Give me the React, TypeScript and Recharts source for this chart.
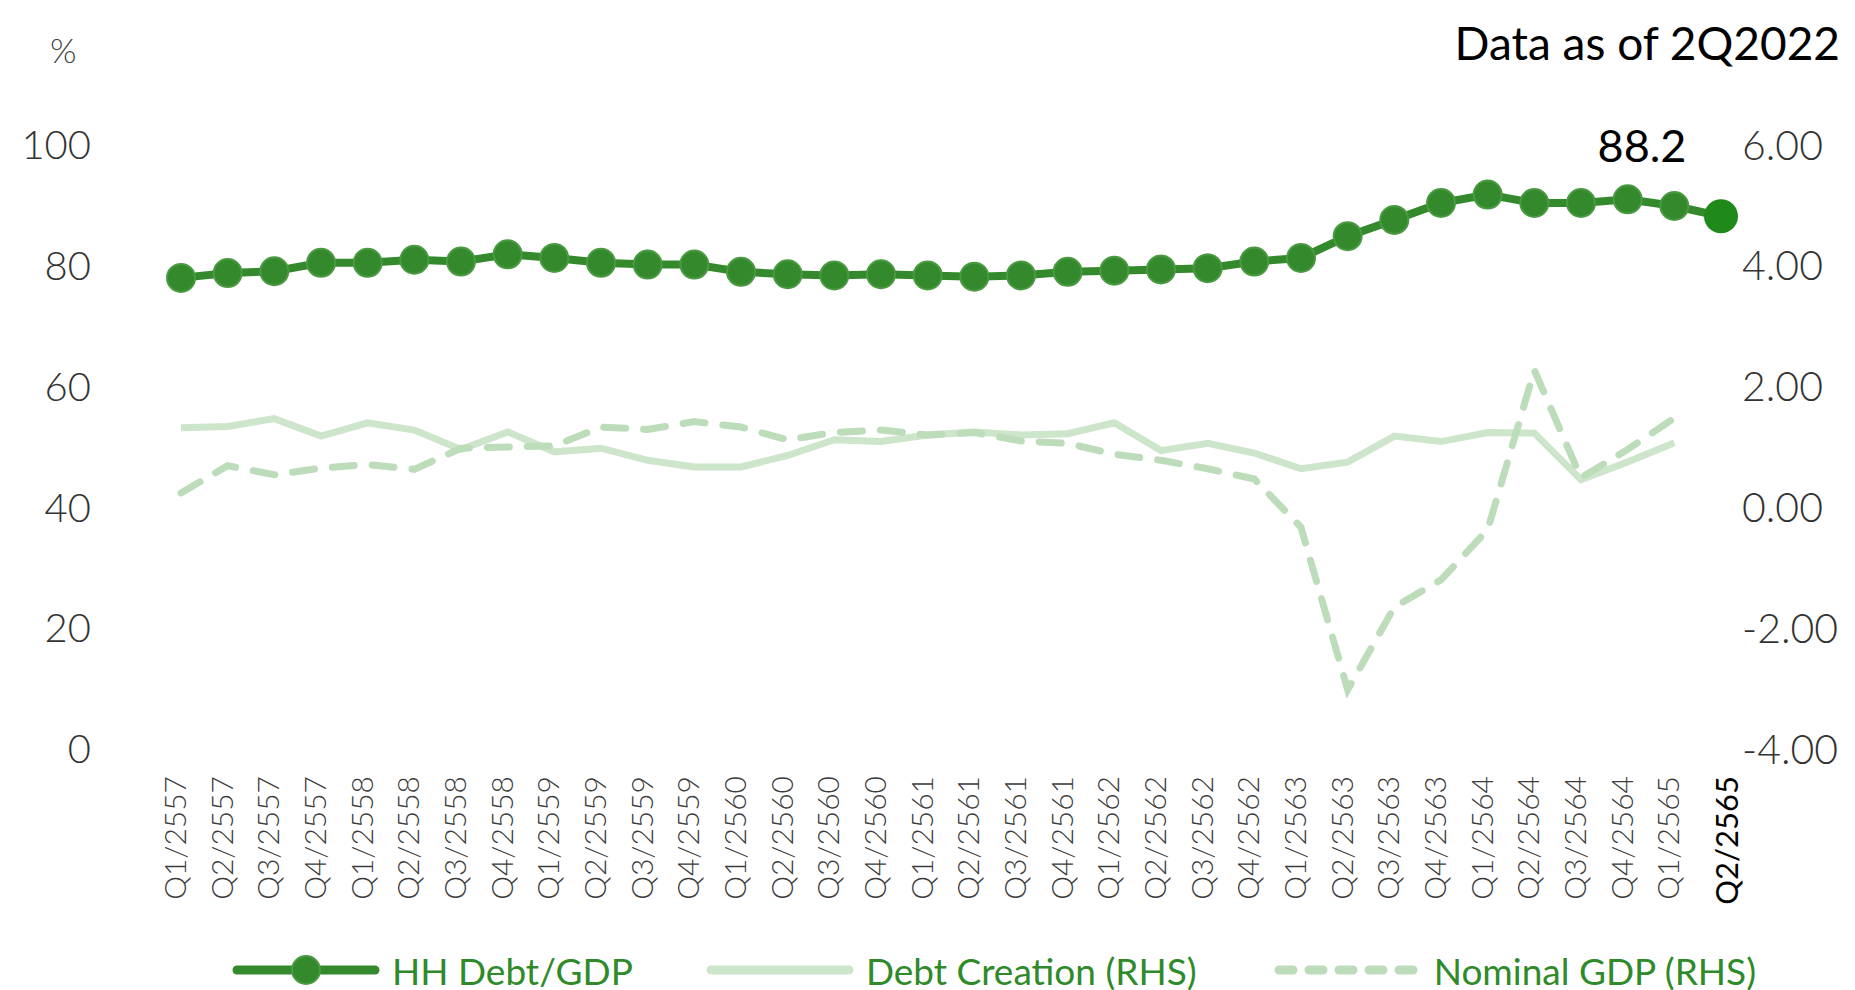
import { LineChart, Line, XAxis, YAxis, Legend, LabelList } from "recharts";

const quarters = [
  "Q1/2557", "Q2/2557", "Q3/2557", "Q4/2557",
  "Q1/2558", "Q2/2558", "Q3/2558", "Q4/2558",
  "Q1/2559", "Q2/2559", "Q3/2559", "Q4/2559",
  "Q1/2560", "Q2/2560", "Q3/2560", "Q4/2560",
  "Q1/2561", "Q2/2561", "Q3/2561", "Q4/2561",
  "Q1/2562", "Q2/2562", "Q3/2562", "Q4/2562",
  "Q1/2563", "Q2/2563", "Q3/2563", "Q4/2563",
  "Q1/2564", "Q2/2564", "Q3/2564", "Q4/2564",
  "Q1/2565", "Q2/2565",
];

// % of GDP, left axis
const hhDebt = [
  78.0, 78.8, 79.1, 80.5, 80.5, 81.0, 80.7, 81.9,
  81.3, 80.5, 80.2, 80.2, 79.0, 78.6, 78.4, 78.6,
  78.4, 78.2, 78.4, 79.0, 79.2, 79.4, 79.6, 80.7,
  81.3, 84.9, 87.6, 90.4, 91.8, 90.4, 90.4, 91.0,
  89.9, 88.2,
];

// right axis
const debtCreation = [
  1.32, 1.34, 1.47, 1.18, 1.40, 1.28, 0.96, 1.25,
  0.92, 0.98, 0.78, 0.67, 0.67, 0.86, 1.12, 1.09,
  1.20, 1.25, 1.20, 1.22, 1.40, 0.94, 1.06, 0.90,
  0.64, 0.75, 1.18, 1.09, 1.24, 1.23, 0.46, 0.75,
  1.07, null,
];

const nominalGdp = [
  0.24, 0.69, 0.54, 0.65, 0.71, 0.63, 0.98, 1.00,
  1.02, 1.33, 1.29, 1.42, 1.33, 1.12, 1.24, 1.28,
  1.20, 1.24, 1.10, 1.06, 0.88, 0.78, 0.64, 0.47,
  -0.33, -3.02, -1.65, -1.20, -0.37, 2.27, 0.49, 0.96,
  1.48, null,
];

const leftTicks = [0, 20, 40, 60, 80, 100];
const rightTicks = [-4, -2, 0, 2, 4, 6];
const legendNames = ["HH Debt/GDP", "Debt Creation (RHS)", "Nominal GDP (RHS)"];

const data = quarters.map((q, i) => ({
  q,
  hh: hhDebt[i],
  debt: debtCreation[i],
  gdp: nominalGdp[i],
}));

const LAST = quarters.length - 1;
const DARK = "#35892d";
const PALE = "#cde5ca";
const PALE_DASH = "#bddcb9";

function XTick({ x, y, payload }: any) {
  const isLast = payload.value === quarters[LAST];
  const tx = x + (isLast ? 5 : -7);
  const ty = y + 25;
  return (
    <text
      x={tx}
      y={ty}
      transform={`rotate(-90, ${tx}, ${ty})`}
      textAnchor="end"
      dominantBaseline="central"
      fontFamily="Lato"
      fontSize={isLast ? 31 : 30}
      fontWeight={isLast ? 400 : 300}
      fill={isLast ? "#000" : "#3c3c3c"}
    >
      {payload.value}
    </text>
  );
}

function HHDot(props: any) {
  const { cx, cy, index } = props;
  if (index === LAST) {
    return <circle key={`d${index}`} cx={cx} cy={cy} r={17} fill="#1f8a1a" />;
  }
  return <circle key={`d${index}`} cx={cx} cy={cy} r={14} fill={DARK} stroke="#4a9a42" strokeWidth={2} />;
}

function LastLabel(props: any) {
  const { x, y, index, value } = props;
  const isLast = index === LAST || (index === undefined && value === hhDebt[LAST]);
  if (!isLast) return null;
  return (
    <text x={x - 79} y={y - 71} textAnchor="middle" dominantBaseline="central" fontFamily="Lato" fontSize={45} fill="#000">
      {value}
    </text>
  );
}

function LegendIcon({ i }: { i: number }) {
  if (i === 0) {
    return (
      <svg width={150} height={40}>
        <line x1={6} y1={20} x2={144} y2={20} stroke={DARK} strokeWidth={9} strokeLinecap="round" />
        <circle cx={75} cy={20} r={14} fill={DARK} stroke="#4a9a42" strokeWidth={2} />
      </svg>
    );
  }
  if (i === 1) {
    return (
      <svg width={150} height={40}>
        <line x1={6} y1={20} x2={144} y2={20} stroke={PALE} strokeWidth={9} strokeLinecap="round" />
      </svg>
    );
  }
  return (
    <svg width={150} height={40}>
      <line x1={6} y1={20} x2={144} y2={20} stroke={PALE_DASH} strokeWidth={9} strokeLinecap="round" strokeDasharray="14 16" />
    </svg>
  );
}

function LegendContent() {
  return (
    <div
      style={{
        display: "flex",
        alignItems: "center",
        height: 50,
        paddingLeft: 231,
        fontFamily: "Lato",
        fontSize: 37,
        color: "#2f8a2a",
      }}
    >
      {legendNames.map((name, i) => (
        <div key={name} style={{ display: "flex", alignItems: "center", marginRight: i === 0 ? 72 : 76 }}>
          <LegendIcon i={i} />
          <span style={{ marginLeft: 11, whiteSpace: "nowrap" }}>{name}</span>
        </div>
      ))}
    </div>
  );
}

export default function App() {
  return (
    <div style={{ position: "absolute", left: 0, top: 0, width: 1855, height: 990, background: "#fff", fontFamily: "Lato" }}>
      <LineChart width={1855} height={990} data={data} margin={{ top: 145, right: 0, bottom: 41, left: 0 }}>
        <XAxis
          dataKey="q"
          interval={0}
          tickLine={false}
          axisLine={false}
          tickSize={0}
          height={200}
          tick={<XTick />}
        />
        <YAxis
          yAxisId="left"
          domain={[0, 100]}
          ticks={leftTicks}
          width={181}
          tickLine={false}
          axisLine={false}
          tickSize={0}
          tickMargin={90}
          tick={{ fontSize: 40, fill: "#333", fontWeight: 300, fontFamily: "Lato" }}
        />
        <YAxis
          yAxisId="right"
          orientation="right"
          domain={[-4, 6]}
          ticks={rightTicks}
          width={134}
          tickLine={false}
          axisLine={false}
          tickSize={0}
          tickMargin={21}
          tickFormatter={(v: number) => v.toFixed(2)}
          tick={{ fontSize: 41, fill: "#333", fontWeight: 300, fontFamily: "Lato", textAnchor: "start" }}
        />
        <Legend
          layout="horizontal"
          verticalAlign="middle"
          align="center"
          wrapperStyle={{ top: 945, left: 0, width: 1855, height: 50 }}
          content={<LegendContent />}
        />
        <Line
          yAxisId="right"
          dataKey="debt"
          type="linear"
          stroke={PALE}
          strokeWidth={7}
          dot={false}
          isAnimationActive={false}
        />
        <Line
          yAxisId="right"
          dataKey="gdp"
          type="linear"
          stroke={PALE_DASH}
          strokeWidth={7}
          strokeDasharray="22 18"
          strokeLinecap="round"
          dot={false}
          isAnimationActive={false}
        />
        <Line
          yAxisId="left"
          dataKey="hh"
          type="linear"
          stroke={DARK}
          strokeWidth={8}
          dot={HHDot}
          activeDot={false}
          isAnimationActive={false}
        >
          <LabelList dataKey="hh" content={LastLabel} />
        </Line>
      </LineChart>
      <div style={{ position: "absolute", left: 50, top: 26, fontSize: 34, lineHeight: "48px", color: "#444", fontWeight: 300 }}>%</div>
      <div style={{ position: "absolute", right: 15, top: 18, fontSize: 46, lineHeight: "50px", color: "#000" }}>Data as of 2Q2022</div>
    </div>
  );
}
